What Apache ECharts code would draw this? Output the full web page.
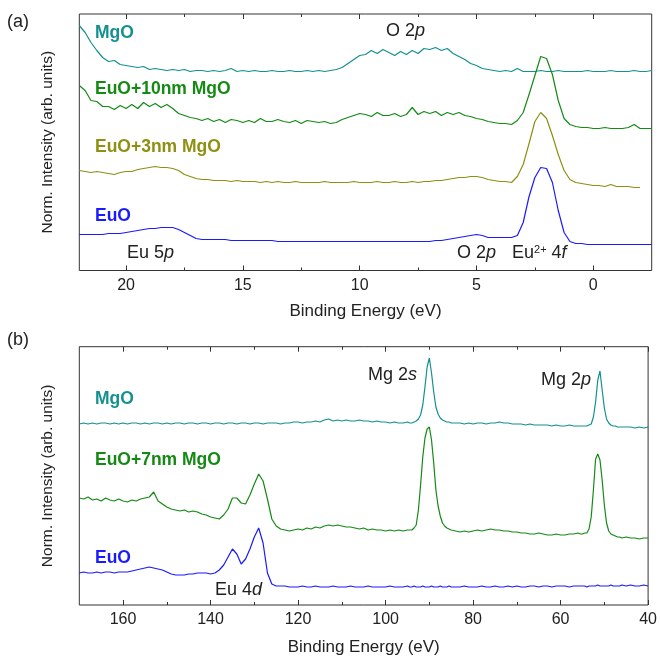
<!DOCTYPE html>
<html>
<head>
<meta charset="utf-8">
<script src="https://cdn.jsdelivr.net/npm/echarts@6/dist/echarts.min.js"></script>
<style>
html,body{margin:0;padding:0;background:#fff;}
#chart{width:660px;height:658px;}
</style>
</head>
<body>
<div id="chart"></div>
<script>
// ---------- Panel (a): valence band, binding energy (eV) ----------
const energyA = [22,
21.75,21.5,21.25,21,
20.75,20.5,20.25,20,
19.75,19.5,19.25,19,
18.75,18.5,18.25,18,
17.75,17.5,17.25,17,
16.75,16.5,16.25,16,
15.75,15.5,15.25,15,
14.75,14.5,14.25,14,
13.75,13.5,13.25,13,
12.75,12.5,12.25,12,
11.75,11.5,11.25,11,
10.75,10.5,10.25,10,
9.75,9.5,9.25,9,
8.75,8.5,8.25,8,
7.75,7.5,7.25,7,
6.75,6.5,6.25,6,
5.75,5.5,5.25,5,
4.75,4.5,4.25,4,
3.75,3.5,3.25,3,
2.75,2.5,2.25,2,
1.75,1.5,1.25,1,
0.75,0.5,0.25,0,
-0.25,-0.5,-0.75,-1,
-1.25,-1.5,-1.75,-2,
-2.25,-2.5];

const mgoA = [245,
238,228,220,213,
209,210,206,205,
204,203,204,201,
202,201,200,201,
200,201,199,200,
200,199,200,199,
200,202,199,200,
199,200,199,199,
200,199,199,200,
199,199,200,199,
200,199,200,201,
203,207,211,215,
216,220,217,221,
218,215,219,216,
220,217,222,221,
223,220,222,217,
214,211,207,205,
202,201,200,199,
200,199,202,199,
199,199,200,199,
199,200,199,199,
199,199,200,199,
199,199,200,199,
199,199,200,199,
199,200];

const eu10A = [185,
180,170,169,164,
164,161,165,162,
166,162,168,164,
167,163,166,162,
157,155,153,152,
150,152,149,151,
148,151,150,148,
150,148,152,149,
149,151,149,148,
150,147,150,149,
148,149,147,148,
151,153,155,157,
156,154,158,155,
155,157,154,156,
163,156,159,157,
159,155,158,156,
158,155,154,152,
151,149,148,147,
147,146,150,158,
176,195,214,212,
196,170,152,146,
144,143,143,142,
142,143,142,142,
142,143,146,142,
142,142];

const eu3A = [100,
99,98,99,98,
97,96,98,99,
99,101,102,103,
104,103,103,102,
100,96,94,92,
91,91,90,90,
90,89,90,89,
89,89,88,89,
88,89,88,88,
89,88,88,88,
88,89,88,88,
88,88,89,88,
88,88,89,88,
88,89,88,88,
89,88,89,89,
90,90,91,92,
93,93,94,94,
93,91,90,89,
89,88,94,106,
127,149,158,152,
135,116,100,91,
88,87,86,85,
85,84,86,84,
84,84,83,83,
null,null];

const euoA = [36,
36,36,36,36,
37,37,37,38,
39,40,41,42,
42,43,43,43,
41,38,35,32,
31,31,31,31,
31,30,30,30,
30,30,30,30,
30,29,29,29,
29,29,29,29,
29,29,29,29,
29,29,29,29,
29,29,29,29,
29,29,29,29,
29,29,29,29,
30,30,31,32,
33,34,35,36,
35,33,33,33,
33,33,35,48,
74,93,103,102,
88,60,38,29,
27,27,26,26,
26,26,26,26,
26,26,26,26,
26,26];

// ---------- Panel (b): core levels, binding energy (eV) ----------
const energyB = [170,169,168,167,166,165,164,163,162,161,
160,159,158,157,156,155,154,153,152,151,
150,149,148,147,146,145,144,143,142,141,
140,139,138,137,136,135,134,133,132,131,
130,129,128,127,126,125,124,123,122,121,
120,119,118,117,116,115,114,113,112,111,
110,109,108,107,106,105,104,103,102,101,
100,99,98,97,96,95,
94.5,94,93.5,93,92.5,92,91.5,91,90.5,90,
89.5,89,88.5,88,87.5,87,86.5,86,85.5,85,
84,83,82,81,80,79,78,77,76,75,
74,73,72,71,70,69,68,67,66,65,
64,63,62,61,60,59,58,57,56,
55.5,55,54.5,54,53.5,53,52.5,52,51.5,51,
50.5,50,49.5,49,48.5,48,47.5,47,46.5,46,
45,44,43,42,41,40];

const mgoB = [181,182,181,182,181,182,182,181,182,181,
182,181,182,182,181,182,181,182,182,181,
182,181,182,182,181,182,182,181,182,182,
181,182,182,181,182,182,181,182,182,181,
182,182,181,182,182,182,181,182,182,183,
183,182,183,183,184,183,185,186,184,185,
184,185,184,184,185,184,184,183,184,183,
183,182,183,182,182,183,
182,182,183,184,186,190,200,218,238,247,
232,213,198,191,187,185,184,183,183,182,
182,182,181,182,181,182,182,181,182,182,
183,182,182,181,181,181,180,181,180,180,
180,180,179,180,179,179,180,179,179,
179,179,179,179,180,181,188,203,225,234,
215,197,186,182,180,179,179,178,178,178,
178,178,177,178,177,178];

const eu7B = [107,106,108,105,106,104,107,105,104,106,
104,103,105,104,106,107,108,113,104,101,
98,96,95,94,95,93,94,93,91,90,
88,87,86,90,96,107,107,102,101,110,
121,131,124,106,86,79,76,75,74,75,
76,75,77,76,78,77,79,80,79,80,
79,78,78,77,76,77,75,76,75,75,
74,75,74,75,74,75,
75,75,77,80,95,120,148,167,176,178,
165,142,115,99,89,82,79,77,76,75,
74,73,74,73,74,75,74,75,76,75,
75,74,74,73,73,72,72,71,71,72,
71,70,70,71,70,70,71,71,72,
71,71,72,72,76,88,115,146,151,145,
125,100,82,74,71,70,69,68,68,67,
68,67,67,66,67,67];

const euoB = [32,33,32,32,33,32,33,33,32,33,
33,33,34,35,36,37,38,37,36,35,
33,31,30,30,30,31,31,32,32,32,
31,32,35,40,48,56,51,41,46,56,
68,77,62,32,21,19,19,19,18,18,
18,19,18,18,19,18,18,18,19,18,
18,18,19,18,18,18,19,18,18,18,
18,19,18,18,18,19,
18,18,19,18,18,18,19,18,18,18,
19,18,18,18,19,18,18,18,19,18,
18,18,19,18,18,18,19,18,18,19,
18,18,19,18,19,18,18,19,19,18,
19,19,18,19,19,19,18,19,19,
19,19,19,18,19,19,19,19,20,19,
19,19,19,19,20,19,19,19,19,20,
19,20,19,19,20,19];

// ---------- ticks ----------
const ticksA = [20, 15, 10, 5, 0];
const minorA = [17.5, 12.5, 7.5, 2.5];
const ticksB = [160, 140, 120, 100, 80, 60, 40];
const minorB = [150, 130, 110, 90, 70, 50];

// ---------- colours ----------
const C_TEAL = '#139191';
const C_GREEN = '#148a14';
const C_OLIVE = '#8f8f12';
const C_BLUE = '#1a1aff';

const FONT = "'Liberation Sans', Arial, Helvetica, sans-serif";
const AX = '#333';

function pairs(xs, ys) {
  const out = [];
  for (let i = 0; i < xs.length; i++) {
    if (ys[i] !== null && ys[i] !== undefined) out.push([xs[i], ys[i]]);
  }
  return out;
}

function xAxisSet(gridIndex, min, max, majors, minors, withLabels) {
  const base = {
    type: 'value', gridIndex, min, max, inverse: true,
    axisLine: { show: false }, splitLine: { show: false },
  };
  return [
    Object.assign({}, base, {
      position: 'bottom',
      axisTick: { show: true, inside: true, length: 5, customValues: majors, lineStyle: { color: AX } },
      axisLabel: { show: true, customValues: majors, color: '#222', fontSize: 16, fontFamily: FONT, margin: 7 },
      name: 'Binding Energy (eV)', nameLocation: 'middle', nameGap: gridIndex === 0 ? 32 : 34,
      nameTextStyle: { fontSize: 17, fontFamily: FONT, color: '#222' }
    }),
    Object.assign({}, base, {
      position: 'bottom',
      axisTick: { show: true, inside: true, length: 3, customValues: minors, lineStyle: { color: AX } },
      axisLabel: { show: false }
    }),
    Object.assign({}, base, {
      position: 'top',
      axisTick: { show: true, inside: true, length: 5, customValues: majors, lineStyle: { color: AX } },
      axisLabel: { show: false }
    }),
    Object.assign({}, base, {
      position: 'top',
      axisTick: { show: true, inside: true, length: 3, customValues: minors, lineStyle: { color: AX } },
      axisLabel: { show: false }
    })
  ];
}

function yAxis(gridIndex, max) {
  return {
    type: 'value', gridIndex, min: 0, max,
    axisLine: { show: false }, axisTick: { show: false }, axisLabel: { show: false },
    splitLine: { show: false },
    name: 'Norm. Intensity (arb. units)', nameLocation: 'middle', nameGap: 24, nameRotate: 90,
    nameTextStyle: { fontSize: 15.5, fontFamily: FONT, color: '#222' }
  };
}

function line(name, xi, yi, data, color) {
  return {
    name, type: 'line', xAxisIndex: xi, yAxisIndex: yi, data,
    showSymbol: false, symbol: 'none', smooth: false,
    lineStyle: { color, width: 1.2 }, itemStyle: { color },
    emphasis: { disabled: true }, silent: true
  };
}

function label(x, y, text, color, opts) {
  opts = opts || {};
  return {
    type: 'text', x, y, silent: true,
    style: Object.assign({
      text, fill: color,
      font: (opts.bold ? 'bold ' : '') + (opts.size || 18) + 'px ' + FONT,
      fontSize: opts.size || 18, fontFamily: FONT, fontWeight: opts.bold ? 'bold' : 'normal',
      align: 'left', verticalAlign: 'middle', textAlign: 'left', textVerticalAlign: 'middle'
    }, opts.rich ? { rich: opts.rich } : {})
  };
}

const richIt = {
  i: { fontStyle: 'italic', fontSize: 18, fontFamily: FONT, fill: '#222' },
  s: { fontSize: 11, fontFamily: FONT, fill: '#222', verticalAlign: 'top' }
};

const chart = echarts.init(document.getElementById('chart'), null, { renderer: 'canvas' });
chart.setOption({
  animation: false,
  backgroundColor: '#fff',
  grid: [
    { left: 79.3, top: 14, right: 8.3, height: 256.5, show: true, borderColor: AX, borderWidth: 1, backgroundColor: 'transparent' },
    { left: 79.3, top: 346.7, right: 8.3, height: 258.3, show: true, borderColor: AX, borderWidth: 1, backgroundColor: 'transparent' }
  ],
  xAxis: [].concat(
    xAxisSet(0, -2.5, 22, ticksA, minorA),
    xAxisSet(1, 40, 170, ticksB, minorB)
  ),
  yAxis: [yAxis(0, 256.5), yAxis(1, 258.3)],
  series: [
    line('MgO (a)', 0, 0, pairs(energyA, mgoA), C_TEAL),
    line('EuO+10nm MgO', 0, 0, pairs(energyA, eu10A), C_GREEN),
    line('EuO+3nm MgO', 0, 0, pairs(energyA, eu3A), C_OLIVE),
    line('EuO (a)', 0, 0, pairs(energyA, euoA), C_BLUE),
    line('MgO (b)', 4, 1, pairs(energyB, mgoB), C_TEAL),
    line('EuO+7nm MgO', 4, 1, pairs(energyB, eu7B), C_GREEN),
    line('EuO (b)', 4, 1, pairs(energyB, euoB), C_BLUE)
  ],
  graphic: [
    label(7, 22, '(a)', '#222', { size: 18 }),
    label(7, 340, '(b)', '#222', { size: 18 }),
    label(95, 33, 'MgO', C_TEAL, { bold: true, size: 17.5 }),
    label(95, 89, 'EuO+10nm MgO', C_GREEN, { bold: true, size: 17.5 }),
    label(95, 147.5, 'EuO+3nm MgO', C_OLIVE, { bold: true, size: 17.5 }),
    label(95, 216.5, 'EuO', C_BLUE, { bold: true, size: 17.5 }),
    label(127, 253, 'Eu 5{i|p}', '#222', { rich: richIt }),
    label(386, 31, 'O 2{i|p}', '#222', { rich: richIt }),
    label(457, 253, 'O 2{i|p}', '#222', { rich: richIt }),
    label(512, 253, 'Eu{s|2+} 4{i|f}', '#222', { rich: richIt }),
    label(95, 399, 'MgO', C_TEAL, { bold: true, size: 17.5 }),
    label(95, 460, 'EuO+7nm MgO', C_GREEN, { bold: true, size: 17.5 }),
    label(95, 558, 'EuO', C_BLUE, { bold: true, size: 17.5 }),
    label(215, 590, 'Eu 4{i|d}', '#222', { rich: richIt }),
    label(368, 375, 'Mg 2{i|s}', '#222', { rich: richIt }),
    label(541, 380, 'Mg 2{i|p}', '#222', { rich: richIt })
  ]
});
</script>
</body>
</html>
